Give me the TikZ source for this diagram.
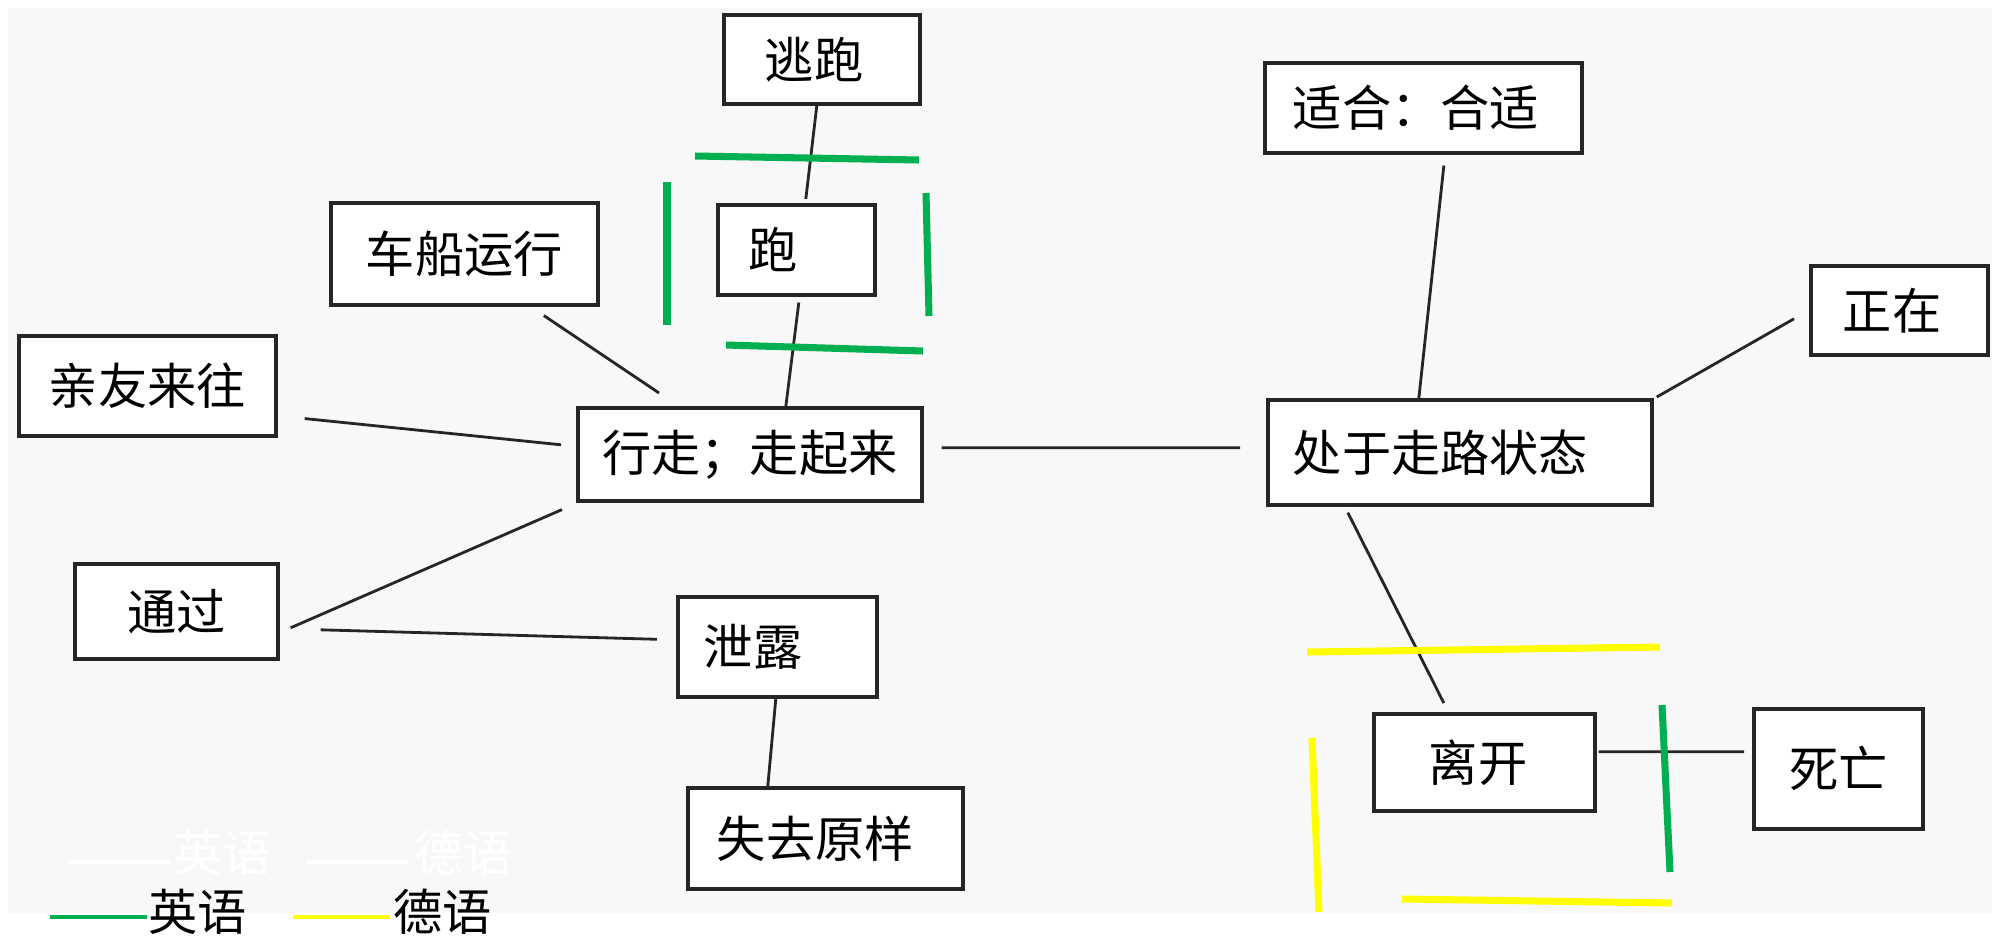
\documentclass[tikz,border=0pt]{standalone}
\usepackage{fontspec}
\usepackage{tikz}
\newfontfamily\cjk{Noto Sans CJK SC}
\definecolor{paper}{HTML}{F8F8F8}
\definecolor{engreen}{HTML}{00B050}
\definecolor{deyellow}{HTML}{FFFF00}
\tikzset{
  word/.style={draw=black!85, line width=1pt, fill=white, anchor=north west, inner sep=0pt,
    font=\cjk\fontsize{14pt}{16pt}\selectfont},
  link/.style={line width=0.8pt, draw=black!85},
  english/.style={line width=2pt, draw=engreen},
  german/.style={line width=2pt, draw=deyellow},
  key/.style={anchor=west, inner sep=0pt, font=\cjk\fontsize{14pt}{16pt}\selectfont},
}
\begin{document}
\begin{tikzpicture}[x=0.01cm, y=-0.01cm]
          \useasboundingbox (0,0) rectangle (2000,942);
          \fill[paper] (8,8) rectangle (1992,913);
          % left group
          \node[word, inner xsep=0.41cm, text width=1.14cm, minimum height=0.89cm, align=left] (taopao) at (722,13) {逃跑};
          \node[word, inner xsep=0.31cm, text width=0.95cm, minimum height=0.90cm, align=left] (pao) at (716,203) {跑};
          \node[word, minimum width=2.67cm, minimum height=1.02cm] (chechuan) at (329,201) {车船运行};
          \node[word, minimum width=2.57cm, minimum height=1.00cm] (qinyou) at (17,334) {亲友来往};
          \node[word, minimum width=3.44cm, minimum height=0.93cm] (xingzou) at (576,406) {行走；走起来};
          \node[word, minimum width=2.03cm, minimum height=0.95cm] (tongguo) at (73,562) {通过};
          \node[word, inner xsep=0.26cm, text width=1.47cm, minimum height=1.00cm, align=left] (xielu) at (676,595) {泄露};
          \node[word, inner xsep=0.29cm, text width=2.17cm, minimum height=1.01cm, align=left] (shiqu) at (686,786) {失去原样};
          % right group
          \node[word, inner xsep=0.28cm, text width=2.61cm, minimum height=0.90cm, align=left] (shihe) at (1263,61) {适合：合适};
          \node[word, inner xsep=0.32cm, text width=1.13cm, minimum height=0.89cm, align=left] (zhengzai) at (1809,264) {正在};
          \node[word, inner xsep=0.25cm, text width=3.34cm, minimum height=1.05cm, align=left] (chuyu) at (1266,398) {处于走路状态};
          \node[word, inner xsep=0.55cm, text width=1.11cm, minimum height=0.97cm, align=left] (likai) at (1372,712) {离开};
          \node[word, minimum width=1.69cm, minimum height=1.20cm] (siwang) at (1752,707) {死亡};
          % connectors
          \draw[link] ([xshift=-0.05cm]taopao.south) -- ([xshift=0.095cm,yshift=0.04cm]pao.north);
          \draw[link] ([xshift=0.025cm,yshift=-0.06cm]pao.south) -- ([xshift=0.36cm]xingzou.north);
          \draw[link] ([xshift=0.795cm,yshift=-0.09cm]chechuan.south) -- ([xshift=0.83cm,yshift=0.13cm]xingzou.north west);
          \draw[link] ([xshift=0.27cm,yshift=0.19cm]qinyou.south east) -- ([xshift=-0.15cm,yshift=0.095cm]xingzou.west);
          \draw[link] ([xshift=0.18cm,yshift=0.065cm]xingzou.east) -- ([xshift=-0.26cm,yshift=0.045cm]chuyu.west);
          \draw[link] ([xshift=-0.14cm,yshift=-0.07cm]xingzou.south west) -- ([xshift=0.11cm,yshift=-0.165cm]tongguo.east);
          \draw[link] ([xshift=0.41cm,yshift=-0.185cm]tongguo.east) -- ([xshift=-0.19cm,yshift=0.075cm]xielu.west);
          \draw[link] ([xshift=-0.015cm]xielu.south) -- ([xshift=-0.575cm]shiqu.north);
          \draw[link] ([xshift=0.205cm,yshift=-0.11cm]shihe.south) -- ([xshift=-0.41cm]chuyu.north);
          \draw[link] ([xshift=-0.15cm,yshift=-0.085cm]zhengzai.west) -- ([xshift=0.03cm,yshift=0.01cm]chuyu.north east);
          \draw[link] ([xshift=-1.12cm,yshift=-0.06cm]chuyu.south) -- ([xshift=-0.405cm,yshift=0.09cm]likai.north);
          \draw[link] ([xshift=0.02cm,yshift=0.105cm]likai.east) -- ([xshift=-0.08cm,yshift=0.17cm]siwang.west);
          % marks
          \draw[english] (695,156) -- (919,160);
          \draw[english] (726,345) -- (923,351);
          \draw[english] (667,182) -- (667,325);
          \draw[english] (926,193) -- (929,316);
          \draw[english] (1662,705) -- (1670,872);
          \draw[german] (1307,652) -- (1660,647);
          \draw[german] (1312,738) -- (1319,912);
          \draw[german] (1402,899) -- (1672,903);
          % legend
          \draw[line width=1.2pt, white] (67,862) -- (170,862);
          \node[key, text=white] (ghosten) at (173,853) {英语};
          \draw[line width=1.2pt, white] (306,862) -- (408,862);
          \node[key, text=white] (ghostde) at (414,853) {德语};
          \draw[line width=1.2pt, engreen] (50,917) -- (147,917);
          \node[key] (keyen) at (148,912) {英语};
          \draw[line width=1.2pt, deyellow] (293,917) -- (390,917);
          \node[key] (keyde) at (393,912) {德语};
\end{tikzpicture}
\end{document}
